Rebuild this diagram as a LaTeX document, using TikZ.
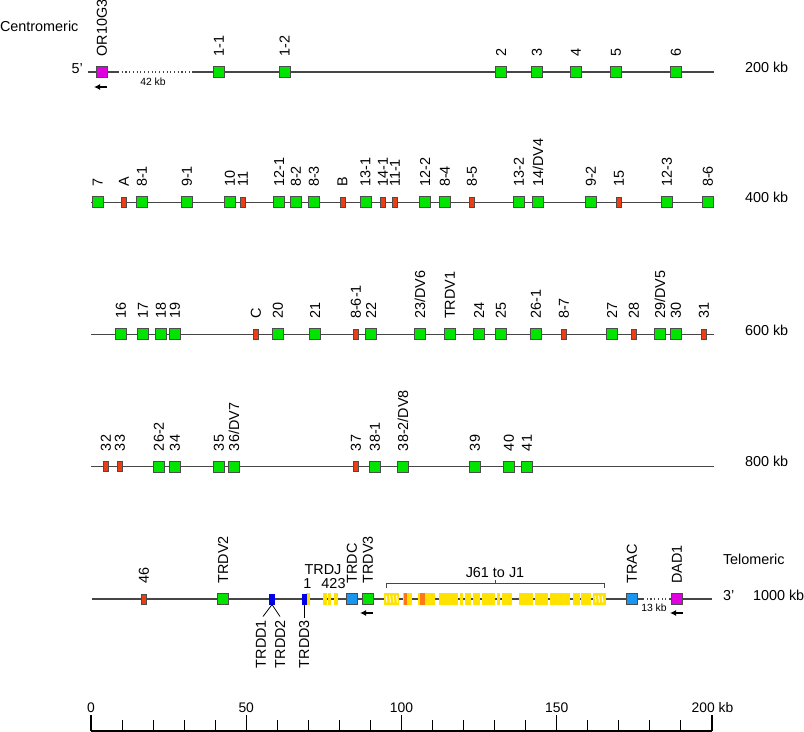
\documentclass[tikz,border=0pt]{standalone}
\usepackage{fontspec}
\setmainfont{Liberation Sans}
\usetikzlibrary{arrows.meta}
\definecolor{vgreen}{RGB}{0,228,0}
\definecolor{pred}{RGB}{235,62,20}
\definecolor{cblue}{RGB}{25,150,240}
\definecolor{dblue}{RGB}{0,0,235}
\definecolor{mag}{RGB}{225,0,225}
\definecolor{jyel}{RGB}{255,226,0}
\definecolor{jor}{RGB}{255,120,20}
\definecolor{linegray}{RGB}{70,70,70}
\tikzset{
 txtbase/.style={inner sep=0pt, outer sep=0pt, font=\fontsize{10.8}{13}\selectfont},
 genebox/.style={draw=black!70, line width=0.6pt, inner sep=0pt, outer sep=0pt, minimum width=8.25pt, minimum height=8.25pt},
 vg/.style={genebox, fill=vgreen},
 pg/.style={genebox, fill=pred, minimum width=3.75pt, minimum height=7.5pt},
 cg/.style={genebox, fill=cblue},
 mg/.style={genebox, fill=mag},
 dg/.style={fill=dblue, inner sep=0pt, outer sep=0pt, minimum width=3.5pt, minimum height=8.25pt},
 jy/.style={fill=jyel, draw=none},
 glab/.style={txtbase, rotate=90, anchor=west},
 txt/.style={txtbase, anchor=base west},
 smalltxt/.style={inner sep=0pt, font=\fontsize{7.8}{9}\selectfont, anchor=base},
 chrom/.style={draw=linegray, line width=1pt},
 gapline/.style={draw=linegray, line width=0.8pt, dotted},
 dirarrow/.style={-{Latex[length=4.5pt,width=4.5pt]}, line width=1.1pt},
 tickmark/.style={draw=black, line width=0.8pt},
 scl/.style={inner sep=0pt, font=\fontsize{10.4}{12}\selectfont, anchor=base},
 leader/.style={draw=black, line width=0.6pt},
}
\newcommand\GeneRow[4]{\foreach \x/\t [count=\i] in {#4}{\node[#2] (#3\i) at (\x,#1) {}; \node[glab] (#3L\i) at (\x,#1-15.5) {\t};}}
\begin{document}
\begin{tikzpicture}[x=0.75pt,y=-0.75pt]
\useasboundingbox (0,0) rectangle (804,732);

% ---- side texts
\node[txt] (centro) at (0,31.7) {Centromeric};
\node[txt] (five) at (71.5,73) {5'};
\node[txt] (kb200) at (745,72.7) {200 kb};
\node[txt] (kb400) at (745,202.7) {400 kb};
\node[txt] (kb600) at (745,335) {600 kb};
\node[txt] (kb800) at (745,466.7) {800 kb};
\node[txt] (telo) at (723,564) {Telomeric};
\node[txt] (three) at (723,600) {3'};
\node[txt] (kb1000) at (753,600) {1000 kb};

% ---- chromosome lines
\draw[chrom] (88,72) -- (118,72);
\draw[gapline] (118,72) -- (192,72);
\draw[chrom] (192,72) -- (714,72);
\node[smalltxt] (gap42) at (153,85) {42 kb};
\draw[chrom] (91,202.3) -- (714,202.3);
\draw[chrom] (91,334.3) -- (714,334.3);
\draw[chrom] (91,466.5) -- (714,466.5);
\draw[chrom] (92,599) -- (643,599);
\draw[gapline] (643,599) -- (670,599);
\draw[chrom] (670,599) -- (712,599);
\node[smalltxt] (gap13) at (654,611.7) {13 kb};

% ---- row 1
\GeneRow{72}{mg}{ra}{102/OR10G3}
\GeneRow{72}{vg}{rb}{219/1-1, 284.5/1-2, 501/2, 537/3, 576/4, 616/5, 676/6}
\draw[dirarrow] (107,87) -- (94,87);

% ---- row 2
\GeneRow{202.3}{vg}{rc}{97.7/7, 142/8-1, 187/9-1, 230/10, 279/12-1, 296/8-2, 314/8-3, 365.5/13-1, 425/12-2, 445/8-4, 519/13-2, 538/{14/DV4}, 591/9-2, 667/12-3, 708/8-6}
\GeneRow{202.3}{pg}{rd}{124/A, 243/11, 342.5/B, 383/14-1, 395/11-1, 472/8-5, 619/15}

% ---- row 3
\GeneRow{334.3}{vg}{re}{121/16, 143/17, 161/18, 175/19, 278/20, 315/21, 371/22, 420/{23/DV6}, 450/TRDV1, 479/24, 501/25, 536/26-1, 612/27, 660/{29/DV5}, 676/30}
\GeneRow{334.3}{pg}{rf}{256/C, 356/8-6-1, 564/8-7, 634/28, 704/31}

% ---- row 4
\GeneRow{466.5}{vg}{rg}{159/26-2, 175/34, 219/35, 234/{36/DV7}, 375/38-1, 403/{38-2/DV8}, 475/39, 509/40, 527/41}
\GeneRow{466.5}{pg}{rh}{106/32, 120/33, 356/37}

% ---- row 5
\foreach \a/\b in {305.5/310, 323/326.5, 327.5/331, 334/338,
  384/399.3, 403.3/411.7, 418.3/435, 439.3/458.3, 460/463.3, 465/470.7, 472.7/480, 481.7/495,
  496.7/500, 501.7/511.7, 519.3/533.3, 535/548.3, 550/570, 572.7/580, 581/590.7, 592.7/605.7}
  {\fill[jy] (\a,592.8) rectangle (\b,605.2);}
\fill[jor] (404,592.8) rectangle (406.5,605.2);
\fill[jor] (420,592.8) rectangle (425,605.2);
\foreach \a in {386,389.5,393,396.5,595,598.5,602}
  {\draw[white, line width=0.7pt] (\a,595.5) -- (\a+1,602.5);}
\GeneRow{599}{pg}{ri}{144/46}
\GeneRow{599}{vg}{rj}{223/TRDV2, 368/TRDV3}
\GeneRow{599}{cg}{rk}{352/TRDC, 632/TRAC}
\GeneRow{599}{mg}{rl}{677/DAD1}
\node[dg, minimum width=4.5pt] (dd1) at (272,599) {};
\node[dg] (dd3) at (304.2,599) {};
\draw[leader] (dd1.south) -- (263,616.5);
\draw[leader] (dd1.south) -- (280,616.5);
\draw[leader] (dd3.south) -- (304.2,617.5);
\node[glab, anchor=east] (ld1) at (261,620) {TRDD1};
\node[glab, anchor=east] (ld2) at (280,620) {TRDD2};
\node[glab, anchor=east] (ld3) at (304.2,620) {TRDD3};
\node[txtbase, anchor=base] (trdj) at (323,574) {TRDJ};
\node[txtbase, anchor=base] (j1) at (307.5,588) {1};
\node[txtbase, anchor=base] (j423) at (333.5,588) {423};
\draw[dirarrow] (373,613) -- (360,613);
\draw[dirarrow] (683,613) -- (670,613);
% J bracket
\draw[leader, draw=linegray] (386,588) -- (386,583) -- (604,583) -- (604,588);
\draw[leader, draw=linegray] (495,583) -- (495,580);
\node[txtbase, anchor=base] (jlab) at (495,577) {J61 to J1};

% ---- scale bar
\foreach \k in {0,10,...,200}{\draw[tickmark] ({91+\k*3.105},731) -- ({91+\k*3.105},720);}
\foreach \k in {0,50,...,200}{\draw[tickmark] ({91+\k*3.105},731) -- ({91+\k*3.105},715);}
\draw[tickmark] (91,731) -- (712,731);
\node[scl] (s0) at (91,712.7) {0};
\node[scl] (s50) at (246.25,712.7) {50};
\node[scl] (s100) at (401.5,712.7) {100};
\node[scl] (s150) at (556.75,712.7) {150};
\node[scl] (s200) at (712.5,712.7) {200 kb};
\end{tikzpicture}
\end{document}
